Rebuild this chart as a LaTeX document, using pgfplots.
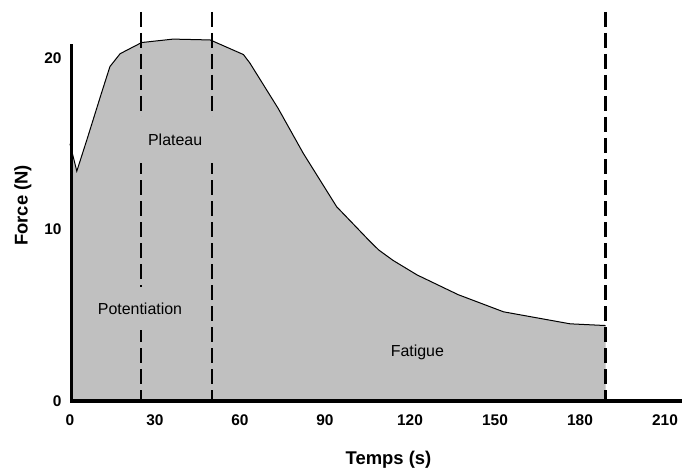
\documentclass[border=0pt]{standalone}
\usepackage{fontspec}
\setmainfont{Liberation Sans}
\usepackage{pgfplots}
\pgfplotsset{compat=1.18}
\usetikzlibrary{calc}
\definecolor{shade}{RGB}{192,192,192}
\begin{document}
\begin{tikzpicture}
\begin{axis}[
  scale only axis,
  width=612bp, height=389bp,
  xmin=0, xmax=216, ymin=0, ymax=22.68,
  axis line style={draw=none},
  major tick length=0pt,
  xtick={0,30,60,90,120,150,180,210},
  ytick={0,10,20},
  xtick pos=bottom, ytick pos=left,
  tick label style={font=\bfseries\fontsize{15.5}{18}\selectfont, /pgf/number format/assume math mode=true},
  xticklabel style={yshift=-10.5bp},
  yticklabel style={xshift=-5bp},
  clip=false,
]
\addplot[fill=shade, draw=none] coordinates {
(0,15.0) (2.4,13.4) (5.9,15.2) (11.2,18.0) (14.1,19.5) (17.7,20.25) (25.3,20.9) (36.4,21.1) (49.5,21.05) (61.2,20.2) (63.5,19.7) (73.5,17.05) (82.3,14.45) (94.1,11.33) (105.9,9.3) (109,8.8) (114,8.2) (122.5,7.35) (137,6.2) (153,5.2) (176.5,4.5) (189,4.4)
} \closedcycle;
\addplot[black, line width=1bp] coordinates {
(0,15.0) (2.4,13.4) (5.9,15.2) (11.2,18.0) (14.1,19.5) (17.7,20.25) (25.3,20.9) (36.4,21.1) (49.5,21.05) (61.2,20.2) (63.5,19.7) (73.5,17.05) (82.3,14.45) (94.1,11.33) (105.9,9.3) (109,8.8) (114,8.2) (122.5,7.35) (137,6.2) (153,5.2) (176.5,4.5) (189,4.4)
};
\addplot[black, line width=2.2bp, dash pattern=on 15bp off 6bp] coordinates {(25,22.68) (25,0)};
\addplot[black, line width=2.2bp, dash pattern=on 15bp off 6bp] coordinates {(50,22.68) (50,0)};
\addplot[black, line width=2.2bp, dash pattern=on 15bp off 6bp] coordinates {(189,22.68) (189,0)};
\addplot[black, line width=3.2bp] coordinates {(0.4,20.8) (0.4,0) (216,0)};
\node[fill=shade, inner xsep=12bp, inner ysep=17bp, font=\fontsize{16}{19}\selectfont] at (axis cs:37.1,15.2) {Plateau};
\node[fill=shade, inner xsep=3bp, inner ysep=16bp, font=\fontsize{16}{19}\selectfont] at (axis cs:24.7,5.4) {Potentiation};
\node[font=\fontsize{16}{19}\selectfont] at (axis cs:122.6,2.86) {Fatigue};
\node[rotate=90, font=\bfseries\fontsize{18.5}{21}\selectfont] at (axis cs:-16.6,11.4) {Force (N)};
\node[anchor=base, font=\bfseries\fontsize{18.5}{21}\selectfont] at (axis cs:112.4,-3.72) {Temps (s)};
\coordinate (bl) at (rel axis cs:0,0);
\coordinate (tr) at (rel axis cs:1,1);
\end{axis}
\pgfresetboundingbox
\path ($(bl)+(-70bp,-68bp)$) rectangle ($(tr)+(0,12bp)$);
\end{tikzpicture}
\end{document}
